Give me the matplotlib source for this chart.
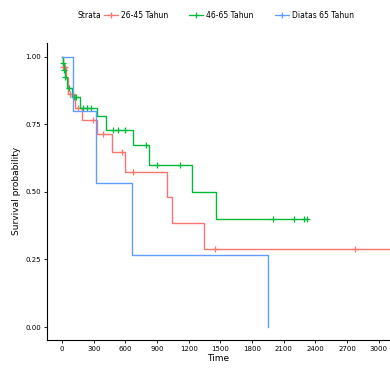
import numpy as np
import matplotlib
matplotlib.use("Agg")
import matplotlib.pyplot as plt
from matplotlib.lines import Line2D

strata = ["26-45 Tahun", "46-65 Tahun", "Diatas 65 Tahun"]
colors = ["#F8766D", "#00BA38", "#619CFF"]

# step-change times and survival values (KM curves)
red_t = [0, 10, 40, 57, 123, 190, 330, 473, 597, 990, 1040, 1345]
red_s = [1.0, 0.96, 0.92, 0.86, 0.81, 0.765, 0.712, 0.647, 0.573, 0.48, 0.385, 0.29]
red_end = 3106
red_cens = [12, 30, 75, 150, 295, 390, 565, 670, 1450, 2775]

green_t = [0, 5, 15, 25, 47, 95, 170, 330, 412, 675, 827, 1228, 1460]
green_s = [1.0, 0.975, 0.95, 0.925, 0.885, 0.85, 0.81, 0.78, 0.73, 0.672, 0.598, 0.50, 0.40]
green_end = 2317
green_cens = [7, 18, 28, 65, 115, 135, 200, 240, 270, 485, 530, 595, 800, 900, 1120, 1998, 2197, 2290, 2317]

blue_t = [0, 107, 322, 660, 1954]
blue_s = [1.0, 0.8, 0.533, 0.267, 0.0]
blue_end = 1954
blue_cens = []

xticks = list(range(0, 3001, 300))
yticks = [0.0, 0.25, 0.5, 0.75, 1.0]
ytick_labels = ["0.00", "0.25", "0.50", "0.75", "1.00"]

W, H = 390, 369
fig = plt.figure(figsize=(W / 100, H / 100), dpi=100)
ax = fig.add_axes([47 / W, 1 - 340 / H, (390 - 47) / W, (340 - 42.5) / H])

def surv_at(ts, ss, t):
    idx = np.searchsorted(ts, t, side="right") - 1
    return np.asarray(ss)[idx]

groups = [(red_t, red_s, red_end, red_cens),
          (green_t, green_s, green_end, green_cens),
          (blue_t, blue_s, blue_end, blue_cens)]
for (ts, ss, tend, cens), col in zip(groups, colors):
    xs = list(ts) + [tend]
    ys = list(ss) + [ss[-1]]
    ax.step(xs, ys, where="post", color=col, lw=1.0)
    if cens:
        cy = surv_at(ts, ss, np.array(cens))
        ax.plot(cens, cy, ls="none", marker="+", ms=4, mew=0.9, color=col)

ax.set_xlim(-142, 3106)
ax.set_ylim(-0.048, 1.052)
ax.set_xticks(xticks)
ax.set_xticklabels([str(v) for v in xticks])
ax.set_yticks(yticks)
ax.set_yticklabels(ytick_labels)
for side in ["top", "right"]:
    ax.spines[side].set_visible(False)
for side in ["left", "bottom"]:
    ax.spines[side].set_linewidth(0.8)
    ax.spines[side].set_color("black")
ax.tick_params(axis="both", labelsize=5, length=2.5, width=0.6, colors="black", pad=2)
ax.set_xlabel("Time", fontsize=6.5, labelpad=1)
ax.set_ylabel("Survival probability", fontsize=6.5, labelpad=3)

handles = [Line2D([0], [0], color=c, lw=0.9, marker="+", ms=4, mew=0.9) for c in colors]
fig.text(78 / W, 1 - 15 / H, "Strata", fontsize=5.5, va="center", ha="left")
leg = fig.legend(handles, strata, loc="center left", bbox_to_anchor=(104 / W, 1 - 15 / H),
                 ncol=3, frameon=False, fontsize=5.5, handlelength=1.8, handletextpad=0.4,
                 columnspacing=2.8, borderaxespad=0, borderpad=0)

fig.savefig("out.png", dpi=100)
